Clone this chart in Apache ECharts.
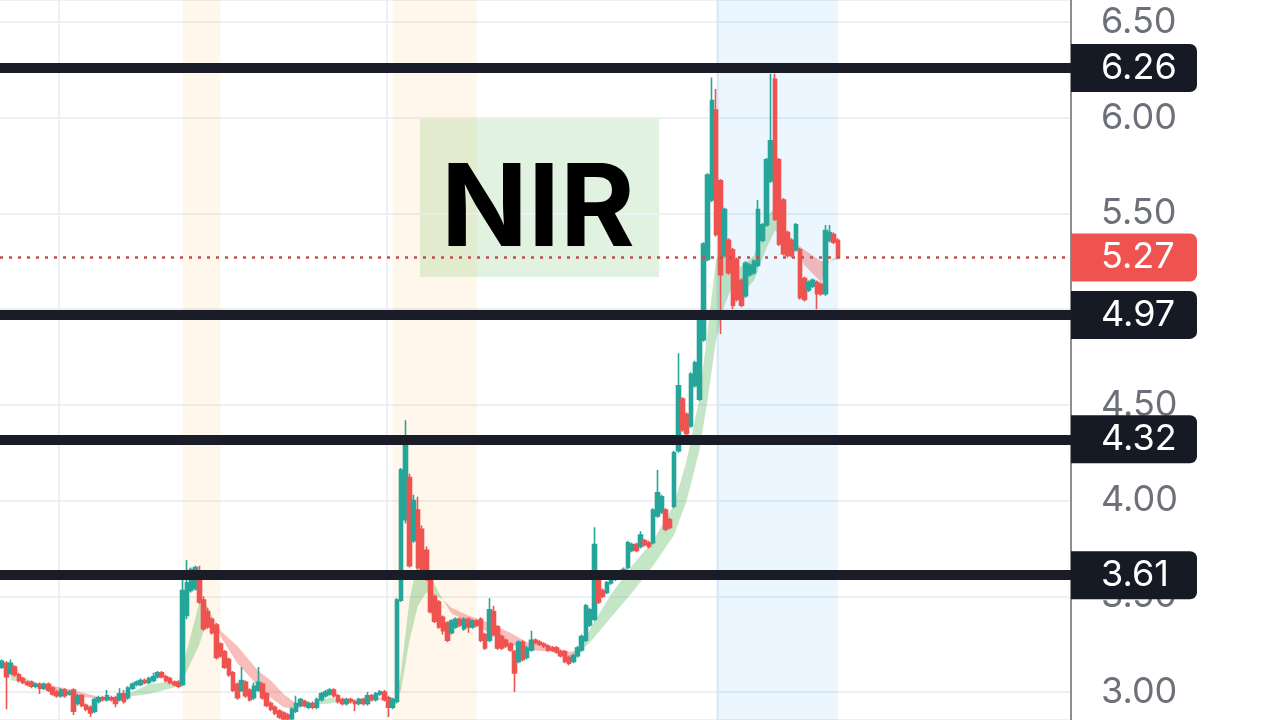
<!DOCTYPE html>
<html>
<head>
<meta charset="utf-8">
<script src="https://cdn.jsdelivr.net/npm/echarts@6/dist/echarts.min.js"></script>
<style>
html,body{margin:0;padding:0;background:#fff;}
#c{width:1280px;height:720px;}
</style>
</head>
<body>
<div id="c"></div>
<script>
// ---------------- DATA ----------------
const slotCount = 255; // candle slots incl. empty right margin
const categories = Array.from({length: slotCount}, (_, i) => String(i));

// [open, close, low, high]
const candles = [
[3.13,3.16,3.12,3.17],[3.15,3.08,2.91,3.16],[3.10,3.15,3.09,3.17],[3.13,3.09,3.08,3.14],[3.09,3.06,3.05,3.10],
[3.07,3.05,3.04,3.08],[3.05,3.04,3.03,3.06],[3.05,3.03,3.02,3.06],[3.03,3.04,3.02,3.05],[3.04,3.02,2.99,3.05],
[3.02,3.04,3.01,3.05],[3.04,3.01,3.00,3.05],[3.02,2.99,2.98,3.03],[3.00,2.98,2.97,3.01],[2.98,3.01,2.97,3.02],
[3.01,2.98,2.97,3.02],[2.99,3.00,2.98,3.01],[3.01,2.90,2.88,3.02],[2.94,2.98,2.93,2.99],[2.98,2.93,2.92,2.99],
[2.93,2.91,2.90,2.94],[2.92,2.89,2.87,2.93],[2.90,2.96,2.89,2.97],[2.95,2.97,2.94,2.98],[2.97,2.96,2.95,2.98],
[2.96,2.98,2.95,3.01],[2.97,2.96,2.95,2.98],[2.97,2.94,2.92,2.98],[2.96,2.99,2.95,3.02],[2.99,2.95,2.94,3.01],
[2.97,3.02,2.96,3.03],[3.02,3.04,3.01,3.05],[3.04,3.05,3.03,3.06],[3.04,3.06,3.03,3.07],[3.06,3.05,3.04,3.07],
[3.05,3.07,3.04,3.08],[3.06,3.08,3.05,3.10],[3.08,3.10,3.07,3.11],[3.10,3.08,3.07,3.11],[3.08,3.06,3.05,3.09],
[3.07,3.05,3.04,3.08],[3.05,3.04,3.03,3.06],[3.05,3.03,3.02,3.06],[3.04,3.53,3.03,3.59],[3.40,3.57,3.38,3.69],
[3.53,3.64,3.52,3.65],[3.54,3.65,3.53,3.66],[3.59,3.47,3.46,3.66],[3.48,3.33,3.32,3.50],[3.42,3.34,3.33,3.44],
[3.38,3.31,3.30,3.39],[3.35,3.18,3.17,3.36],[3.25,3.19,3.18,3.26],[3.21,3.13,3.12,3.22],[3.17,3.09,3.08,3.18],
[3.10,3.01,3.00,3.11],[3.04,2.97,2.96,3.05],[3.01,3.06,3.00,3.13],[3.05,2.98,2.97,3.06],[3.01,2.96,2.95,3.02],
[2.97,3.03,2.96,3.05],[3.01,3.05,3.00,3.13],[3.04,2.97,2.96,3.05],[2.99,2.93,2.92,3.00],[2.94,2.91,2.90,2.95],
[2.92,2.89,2.88,2.93],[2.90,2.87,2.86,2.91],[2.89,2.86,2.85,2.90],[2.88,2.86,2.85,2.89],[2.86,2.91,2.85,2.92],
[2.90,2.94,2.89,2.98],[2.93,2.96,2.92,2.97],[2.95,2.93,2.92,2.96],[2.92,2.94,2.91,2.95],[2.94,2.92,2.91,2.95],
[2.92,2.96,2.91,2.97],[2.96,2.99,2.95,3.00],[2.98,3.00,2.97,3.01],[2.99,3.01,2.98,3.02],[3.01,2.98,2.97,3.02],
[2.98,2.95,2.94,2.99],[2.96,2.94,2.93,2.97],[2.94,2.96,2.93,2.97],[2.96,2.95,2.94,2.97],[2.95,2.94,2.90,2.96],
[2.94,2.96,2.93,2.97],[2.96,2.94,2.93,2.97],[2.94,2.98,2.93,3.00],[2.98,2.96,2.95,2.99],[2.96,2.99,2.95,3.00],
[2.99,3.00,2.98,3.01],[3.00,2.96,2.95,3.01],[2.97,2.92,2.87,2.98],[2.92,2.96,2.91,2.97],[2.95,3.48,2.94,3.49],
[3.48,4.16,3.47,4.17],[3.90,4.29,3.88,4.42],[4.12,3.66,3.65,4.14],[3.79,4.00,3.78,4.03],[3.95,3.65,3.64,4.02],
[3.85,3.64,3.63,3.87],[3.74,3.59,3.58,3.76],[3.59,3.42,3.41,3.60],[3.50,3.37,3.36,3.51],[3.47,3.34,3.33,3.48],
[3.39,3.32,3.30,3.40],[3.36,3.27,3.26,3.37],[3.31,3.37,3.30,3.38],[3.34,3.38,3.33,3.39],[3.38,3.35,3.34,3.39],
[3.33,3.38,3.32,3.39],[3.38,3.34,3.31,3.39],[3.34,3.37,3.33,3.38],[3.37,3.35,3.34,3.38],[3.38,3.27,3.26,3.39],
[3.30,3.23,3.22,3.31],[3.27,3.43,3.26,3.49],[3.42,3.30,3.29,3.45],[3.34,3.23,3.22,3.35],[3.29,3.23,3.22,3.30],
[3.27,3.24,3.23,3.28],[3.25,3.22,3.21,3.26],[3.21,3.10,3.00,3.22],[3.16,3.26,3.15,3.27],[3.26,3.17,3.16,3.27],
[3.18,3.23,3.17,3.24],[3.22,3.27,3.21,3.32],[3.27,3.26,3.25,3.28],[3.26,3.25,3.24,3.27],[3.25,3.24,3.23,3.26],
[3.24,3.22,3.21,3.25],[3.23,3.22,3.21,3.24],[3.23,3.21,3.20,3.24],[3.21,3.19,3.18,3.22],[3.21,3.16,3.15,3.22],
[3.18,3.15,3.14,3.19],[3.16,3.19,3.15,3.20],[3.19,3.23,3.18,3.24],[3.22,3.29,3.21,3.30],[3.27,3.45,3.26,3.46],
[3.35,3.43,3.34,3.44],[3.38,3.77,3.37,3.86],[3.59,3.47,3.46,3.60],[3.53,3.50,3.49,3.54],[3.52,3.57,3.51,3.58],
[3.57,3.60,3.56,3.61],[3.59,3.61,3.58,3.62],[3.60,3.62,3.59,3.63],[3.62,3.64,3.61,3.65],[3.65,3.78,3.64,3.79],
[3.74,3.77,3.73,3.78],[3.77,3.74,3.73,3.78],[3.76,3.82,3.75,3.84],[3.79,3.77,3.76,3.80],[3.78,3.76,3.75,3.79],
[3.78,3.95,3.77,3.96],[3.92,4.04,3.91,4.16],[3.94,4.02,3.93,4.03],[3.95,3.85,3.84,3.96],[3.90,3.86,3.85,3.91],
[3.97,4.25,3.96,4.26],[4.26,4.60,4.25,4.77],[4.53,4.37,4.36,4.54],[4.45,4.35,4.34,4.46],[4.39,4.66,4.38,4.67],
[4.60,4.72,4.59,4.73],[4.53,4.98,4.52,4.99],[4.84,5.34,4.83,5.35],[5.26,5.70,5.25,5.71],[5.57,6.09,5.56,6.21],
[6.04,5.39,5.38,6.15],[5.67,5.18,4.87,5.68],[5.28,5.52,5.27,5.53],[5.36,5.19,5.18,5.37],[5.31,5.02,5.00,5.32],
[5.26,5.05,5.04,5.27],[5.15,5.02,5.01,5.16],[5.07,5.24,5.06,5.25],[5.18,5.23,5.17,5.24],[5.19,5.25,5.18,5.26],
[5.23,5.52,5.22,5.57],[5.36,5.44,5.35,5.45],[5.44,5.78,5.43,5.79],[5.67,5.88,5.66,6.23],[6.20,5.47,5.46,6.23],
[5.78,5.34,5.33,5.79],[5.57,5.29,5.28,5.58],[5.40,5.28,5.27,5.41],[5.36,5.28,5.27,5.37],[5.31,5.44,5.30,5.45],
[5.31,5.06,5.05,5.32],[5.16,5.05,5.04,5.17],[5.10,5.14,5.09,5.15],[5.12,5.15,5.11,5.16],[5.14,5.08,5.00,5.15],
[5.13,5.08,5.07,5.14],[5.08,5.41,5.07,5.44],[5.36,5.40,5.35,5.44],[5.39,5.35,5.34,5.40],[5.36,5.27,5.26,5.37]
];

// moving-average cloud, read at selected candle indices
const bandIdx  = [2,8,15,24,28,35,42,44,47,48,50,52,56,61,64,67,70,72,78,82,88,93,94,95,97,99,101,103,105,107,111,116,121,125,131,135,138,140,145,150,155,160,163,166,168,170,172,174,176,179,182,184,186,188,191,195,197,199];
const bandFast = [3.10,3.05,2.99,2.96,2.97,3.04,3.06,3.22,3.47,3.48,3.40,3.29,3.15,3.03,2.97,2.92,2.91,2.93,2.97,2.96,2.96,2.96,2.98,3.11,3.48,3.69,3.69,3.56,3.48,3.41,3.37,3.31,3.25,3.22,3.21,3.18,3.22,3.33,3.51,3.66,3.79,3.98,4.21,4.53,4.89,5.26,5.34,5.25,5.22,5.28,5.48,5.53,5.44,5.36,5.23,5.14,5.25,5.28];
const bandSlow = [3.06,3.05,3.02,2.97,2.97,2.99,3.03,3.11,3.25,3.32,3.40,3.32,3.24,3.11,3.06,2.99,2.94,2.93,2.94,2.96,2.97,2.97,2.97,3.01,3.27,3.45,3.52,3.51,3.48,3.44,3.40,3.36,3.31,3.26,3.24,3.21,3.22,3.26,3.39,3.52,3.66,3.82,4.00,4.26,4.53,4.84,5.02,5.13,5.08,5.15,5.32,5.41,5.39,5.36,5.31,5.25,5.25,5.26];

const levels = [6.26, 4.97, 4.32, 3.61];
const lastPrice = 5.27;
const yRange = {min: 2.8537, max: 6.6149, step: 0.5};

// highlighted sessions [startIdx, endIdx, kind]
const sessions = [[43, 52, 'pre'], [93, 113, 'pre'], [170, 199, 'post']];
const title = 'NIR';

// ---------------- BUILD ----------------
const bandSegs = [];
for (let k = 0; k < bandIdx.length - 1; k++) {
  bandSegs.push([bandIdx[k], bandFast[k], bandSlow[k], bandIdx[k + 1], bandFast[k + 1], bandSlow[k + 1]]);
}

const UP = '#26a69a', DN = '#ef5350';
const CLOUD_UP = 'rgba(76,175,80,0.32)', CLOUD_DN = 'rgba(239,83,80,0.38)';
const sessionColor = {pre: 'rgba(255,152,0,0.08)', post: 'rgba(33,150,243,0.09)'};

const labelBase = {
  show: true, position: 'end', distance: 0,
  color: '#ffffff', fontSize: 36, fontFamily: 'Inter, Roboto, sans-serif',
  padding: [4, 0, 4, 30], width: 96, height: 40, lineHeight: 40,
  borderRadius: [0, 7, 7, 0],
  formatter: p => Number(p.value).toFixed(2)
};

const markLines = levels.map(v => ({
  yAxis: v,
  lineStyle: {color: '#1a1d27', width: 10, type: 'solid'},
  label: Object.assign({}, labelBase, {backgroundColor: '#161a25'})
}));
markLines.push({
  yAxis: lastPrice,
  lineStyle: {color: '#c0504d', width: 2.5, type: [3, 6]},
  label: Object.assign({}, labelBase, {backgroundColor: '#ef5350'})
});

function renderBand(params, api) {
  const i0 = api.value(0), f0 = api.value(1), s0 = api.value(2);
  const i1 = api.value(3), f1 = api.value(4), s1 = api.value(5);
  const pa = api.coord([i0, f0]), pb = api.coord([i1, f1]);
  const qa = api.coord([i0, s0]), qb = api.coord([i1, s1]);
  const d0 = f0 - s0, d1 = f1 - s1;
  const colorOf = d => d >= 0 ? CLOUD_UP : CLOUD_DN;
  if (d0 * d1 < 0) {
    const t = d0 / (d0 - d1);
    const c = [pa[0] + t * (pb[0] - pa[0]), pa[1] + t * (pb[1] - pa[1])];
    return {type: 'group', children: [
      {type: 'polygon', shape: {points: [pa, c, qa]}, style: {fill: colorOf(d0)}},
      {type: 'polygon', shape: {points: [c, pb, qb]}, style: {fill: colorOf(d1)}}
    ]};
  }
  return {type: 'polygon', shape: {points: [pa, pb, qb, qa]}, style: {fill: colorOf(d0 + d1)}};
}

const chart = echarts.init(document.getElementById('c'), null, {renderer: 'canvas'});

chart.setOption({
  animation: false,
  backgroundColor: '#ffffff',
  grid: {left: 0, right: 209, top: 0, bottom: 0, containLabel: false},
  xAxis: {
    type: 'category', data: categories, boundaryGap: true,
    axisLine: {show: false}, axisTick: {show: false}, axisLabel: {show: false},
    splitLine: {show: true, interval: (i) => [14, 92, 171].includes(i), lineStyle: {color: '#eef0f3', width: 2}}
  },
  yAxis: {
    type: 'value', position: 'right',
    min: yRange.min, max: yRange.max, splitNumber: 7,
    minInterval: yRange.step, maxInterval: yRange.step,
    axisLine: {show: true, lineStyle: {color: '#8e8e8e', width: 2}},
    axisTick: {show: false},
    axisLabel: {formatter: v => v.toFixed(2), color: '#6e7079', fontSize: 36, margin: 30,
      fontFamily: 'Inter, Roboto, sans-serif', showMinLabel: false, showMaxLabel: false},
    splitLine: {show: true, lineStyle: {color: '#eef0f3', width: 2}}
  },
  graphic: [
    {type: 'rect', z: 0, silent: true, shape: {x: 420, y: 119, width: 239, height: 158}, style: {fill: 'rgba(76,175,80,0.17)'}},
    {type: 'text', z: 1, silent: true, x: 538, y: 212, style: {text: title, fill: '#000', font: 'bold 114px Inter, Roboto, sans-serif', align: 'center', verticalAlign: 'middle'}}
  ],
  series: [
    {
      type: 'custom', name: 'cloud', data: bandSegs, renderItem: renderBand, silent: true, z: 1,
      encode: {x: [0, 3], y: [1, 2, 4, 5]}
    },
    {
      type: 'candlestick', data: candles, barWidth: '95%', clip: false, z: 3,
      itemStyle: {color: UP, color0: DN, borderColor: UP, borderColor0: DN, borderWidth: 1.6},
      markArea: {
        silent: true, z: 0,
        data: sessions.map(s => [{xAxis: s[0], itemStyle: {color: sessionColor[s[2]]}}, {xAxis: s[1]}])
      },
      markLine: {symbol: 'none', silent: true, animation: false, precision: 2, data: markLines}
    }
  ]
});
</script>
</body>
</html>
